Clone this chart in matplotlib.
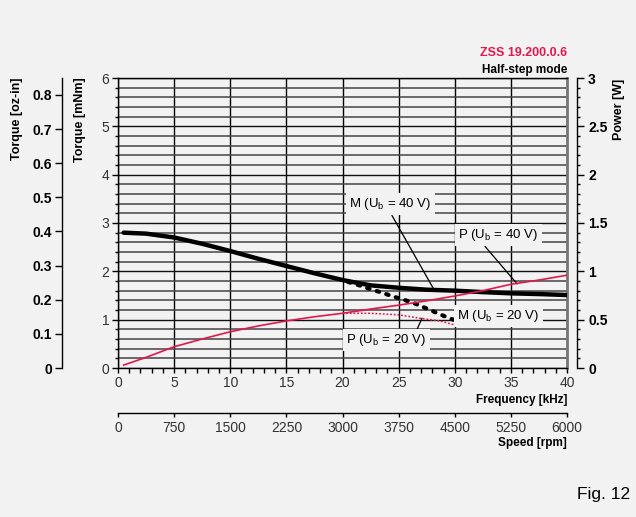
import matplotlib
matplotlib.use('Agg')
import matplotlib.pyplot as plt
import numpy as np

# ---- data ----
freq_m40 = [0.5, 2.5, 5, 7.5, 10, 12.5, 15, 17.5, 20, 22.5, 25, 27.5, 30, 32.5, 35, 37.5, 40]
torque_m40 = [2.80, 2.78, 2.70, 2.57, 2.42, 2.26, 2.11, 1.96, 1.82, 1.71, 1.66, 1.62, 1.60, 1.57, 1.545, 1.53, 1.51]

freq_m20 = [20.5, 21.5, 22.5, 23.5, 24.5, 25.5, 26.5, 27.5, 28.5, 29.5, 30]
torque_m20 = [1.78, 1.71, 1.63, 1.56, 1.48, 1.41, 1.33, 1.23, 1.13, 1.03, 0.99]

freq_p40 = [0.5, 2.5, 5, 7.5, 10, 12.5, 15, 17.5, 20, 22.5, 25, 27.5, 30, 32.5, 35, 37.5, 40]
power_p40 = [0.03, 0.11, 0.22, 0.30, 0.375, 0.435, 0.487, 0.53, 0.566, 0.61, 0.65, 0.695, 0.745, 0.80, 0.866, 0.91, 0.96]

freq_p20 = [20, 22.5, 25, 26.9, 28.7, 30]
power_p20 = [0.566, 0.566, 0.55, 0.515, 0.486, 0.445]

freq_ticks = [0, 5, 10, 15, 20, 25, 30, 35, 40]
speed_ticks = [0, 750, 1500, 2250, 3000, 3750, 4500, 5250, 6000]
ozin_ticks = [0, 0.1, 0.2, 0.3, 0.4, 0.5, 0.6, 0.7, 0.8]
ozin_labels = ["0", "0.1", "0.2", "0.3", "0.4", "0.5", "0.6", "0.7", "0.8"]
power_ticks = [0, 0.5, 1, 1.5, 2, 2.5, 3]
power_labels = ["0", "0.5", "1", "1.5", "2", "2.5", "3"]
MNM_PER_OZIN = 7.0616

BG = "#f2f2f2"
RED = "#e2184c"

plt.rcParams.update({
    "font.family": ["Liberation Sans", "DejaVu Sans"],
    "mathtext.fontset": "custom",
    "mathtext.rm": "Liberation Sans",
    "mathtext.it": "Liberation Sans:italic",
})

fig = plt.figure(figsize=(6.36, 5.17), dpi=100, facecolor=BG)
pos = [118 / 636, 1 - 368 / 517, 449 / 636, 290 / 517]
ax = fig.add_axes(pos)
ax.set_facecolor(BG)

# main torque axis (mNm)
ax.set_xlim(0, 40)
ax.set_ylim(0, 6)
ax.set_xticks(freq_ticks)
ax.set_xticks(np.arange(0, 41, 1), minor=True)
ax.set_yticks(range(0, 7))
ax.set_yticks(np.arange(0, 6.01, 0.2), minor=True)
ax.grid(True, which="minor", axis="y", color="#444444", lw=1.1)
ax.grid(True, which="major", axis="y", color="#111111", lw=1.0)
ax.grid(True, which="major", axis="x", color="black", lw=1.0)
ax.set_axisbelow(True)
ax.tick_params(axis="x", which="both", direction="out", length=3.6, width=1, pad=2,
               labelsize=10, labelcolor="#333333")
ax.tick_params(axis="y", which="major", direction="out", length=4.3, width=1, pad=2,
               labelsize=10, labelcolor="#333333")
ax.tick_params(axis="y", which="minor", direction="out", length=2.2, width=1)
ax.spines["right"].set_color("#777777")
ax.spines["right"].set_linewidth(2)
for s in ["left", "bottom", "top"]:
    ax.spines[s].set_linewidth(1)

ax.plot(freq_m40, torque_m40, color="black", lw=3.2, solid_capstyle="round", zorder=4)
ax.plot(freq_m20, torque_m20, color="black", lw=3.0, linestyle=(0, (0.6, 1.8)),
        dash_capstyle="round", zorder=4)

# power axis on the right
axp = ax.twinx()
axp.set_ylim(0, 3)
axp.set_yticks(power_ticks)
axp.set_yticklabels(power_labels)
axp.set_yticks(np.arange(0, 3.01, 0.1), minor=True)
for s in ["left", "top", "bottom"]:
    axp.spines[s].set_visible(False)
axp.spines["right"].set_position(("outward", 7.2))
axp.spines["right"].set_linewidth(1)
axp.tick_params(axis="y", which="major", direction="out", length=5, width=1, pad=3,
                labelsize=10)
axp.tick_params(axis="y", which="minor", direction="out", length=2.4, width=1)
for lbl in axp.get_yticklabels():
    lbl.set_fontweight("bold")
axp.plot(freq_p40, power_p40, color=RED, lw=1.2, zorder=3)
axp.plot(freq_p20, power_p20, color=RED, lw=1.1, linestyle=(0, (1.2, 1.2)), zorder=3)

# oz-in axis on the far left
axo = fig.add_axes(pos, frameon=True)
axo.patch.set_visible(False)
axo.set_ylim(0, 6 / MNM_PER_OZIN)
axo.set_xticks([])
axo.set_yticks(ozin_ticks)
axo.set_yticklabels(ozin_labels)
for s in ["right", "top", "bottom"]:
    axo.spines[s].set_visible(False)
axo.spines["left"].set_position(("outward", 40.3))
axo.spines["left"].set_linewidth(1)
axo.tick_params(axis="y", direction="out", length=5, width=1, pad=2, labelsize=10)
for lbl in axo.get_yticklabels():
    lbl.set_fontweight("bold")

# speed axis below
axs = fig.add_axes(pos, frameon=True)
axs.patch.set_visible(False)
axs.set_xlim(0, 6000)
axs.set_yticks([])
axs.set_xticks(speed_ticks)
for s in ["left", "right", "top"]:
    axs.spines[s].set_visible(False)
axs.spines["bottom"].set_position(("outward", 32.4))
axs.spines["bottom"].set_linewidth(1)
axs.tick_params(axis="x", direction="out", length=3, width=1, pad=3,
                labelsize=10, labelcolor="#333333")

# curve labels
box = dict(boxstyle="square,pad=0.25", fc=BG, ec="none")
lw_lead = 0.9
ax.annotate(r"M (U$_{\rm b}$ = 40 V)", xy=(28.07, 1.655), xytext=(24.24, 3.39),
            ha="center", va="center", fontsize=9.5, bbox=box, zorder=6,
            arrowprops=dict(arrowstyle="-", lw=lw_lead, color="black",
                            relpos=(0.5, 0), shrinkA=0, shrinkB=0))
ax.annotate(r"P (U$_{\rm b}$ = 40 V)", xy=(35.56, 1.74), xytext=(33.87, 2.75),
            ha="center", va="center", fontsize=9.5, bbox=box, zorder=6,
            arrowprops=dict(arrowstyle="-", lw=lw_lead, color="black",
                            relpos=(0.3, 0), shrinkA=0, shrinkB=0))
ax.annotate(r"M (U$_{\rm b}$ = 20 V)", xy=(33.87, 1.08), ha="center", va="center",
            fontsize=9.5, bbox=box, zorder=6)
ax.annotate(r"P (U$_{\rm b}$ = 20 V)", xy=(27.09, 1.03), xytext=(23.89, 0.58),
            ha="center", va="center", fontsize=9.5, bbox=box, zorder=6,
            arrowprops=dict(arrowstyle="-", lw=lw_lead, color="black",
                            relpos=(0.87, 1), shrinkA=0, shrinkB=0))

# axis titles and headings
fig.text(17 / 636, 1 - 77 / 517, "Torque [oz-in]", rotation=90, ha="center", va="top",
         fontsize=9, fontweight="bold")
fig.text(80 / 636, 1 - 77 / 517, "Torque [mNm]", rotation=90, ha="center", va="top",
         fontsize=9, fontweight="bold")
fig.text(619 / 636, 1 - 79 / 517, "Power [W]", rotation=90, ha="center", va="top",
         fontsize=9, fontweight="bold")
fig.text(567 / 636, 1 - 400 / 517, "Frequency [kHz]", ha="right", va="center",
         fontsize=8.5, fontweight="bold")
fig.text(567 / 636, 1 - 443 / 517, "Speed [rpm]", ha="right", va="center",
         fontsize=8.5, fontweight="bold")
fig.text(567 / 636, 1 - 53 / 517, "ZSS 19.200.0.6", ha="right", va="center",
         fontsize=9, fontweight="bold", color=RED)
fig.text(567 / 636, 1 - 70 / 517, "Half-step mode", ha="right", va="center",
         fontsize=8.5, fontweight="bold")
fig.text(630 / 636, 1 - 495 / 517, "Fig. 12", ha="right", va="center", fontsize=12.5)

fig.savefig("out.png", dpi=100, facecolor=BG)
